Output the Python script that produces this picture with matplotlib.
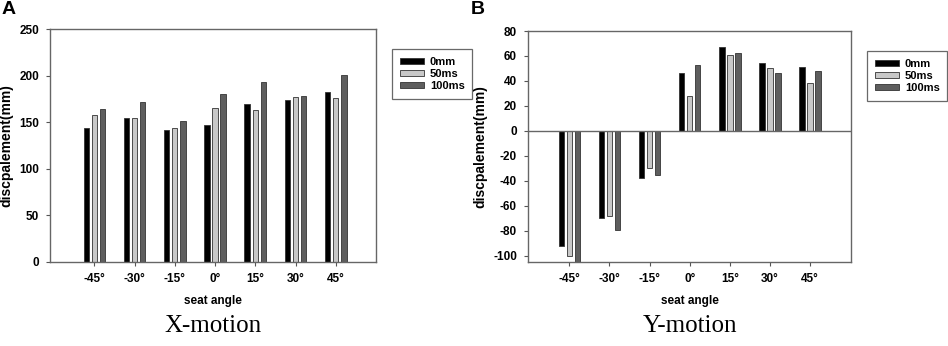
import matplotlib
matplotlib.use("Agg")
import matplotlib.pyplot as plt
import numpy as np

plt.rcParams['font.family'] = ['Liberation Sans', 'DejaVu Sans']

categories = ["-45°", "-30°", "-15°", "0°", "15°", "30°", "45°"]
series_names = ["0mm", "50ms", "100ms"]

x_0mm = [144, 154, 142, 147.5, 170, 174, 182]
x_50ms = [157.5, 154, 144, 165, 163, 177, 176]
x_100ms = [164, 172, 151, 180, 193, 178, 201]

y_0mm = [-92.5, -69.5, -38, 46, 67.5, 54.5, 51]
y_50ms = [-100.5, -68, -30, 28, 60.5, 50, 38]
y_100ms = [-106, -79, -35, 53, 62, 46, 48]

colors = ["#000000", "#c8c8c8", "#5e5e5e"]

W, H = 948, 346
fig = plt.figure(figsize=(W / 100, H / 100), dpi=100)

def ax_rect(x0, y0, x1, y1):
    return [x0 / W, 1 - y1 / H, (x1 - x0) / W, (y1 - y0) / H]

axA = fig.add_axes(ax_rect(50, 29, 376, 262))
axB = fig.add_axes(ax_rect(528, 31, 851, 262))

pos = np.arange(len(categories))
offs = [-0.2, 0.0, 0.2]
bw = 0.135

def draw(ax, data, ylim, yticks, xlim, legend_box):
    handles = []
    for d, c, o, name in zip(data, colors, offs, series_names):
        b = ax.bar(pos + o, d, width=bw, color=c, edgecolor="#333333",
                   linewidth=0.6, label=name, zorder=2)
        handles.append(b)
    ax.set_ylim(*ylim)
    ax.set_xlim(*xlim)
    ax.set_yticks(yticks)
    ax.set_yticklabels([str(t) for t in yticks], fontsize=8.5, fontweight="bold")
    ax.set_xticks(pos)
    ax.set_xticklabels(categories, fontsize=8.5, fontweight="bold")
    ax.tick_params(axis="both", direction="out", length=3, width=0.8,
                   color="#555555", pad=5)
    for s in ax.spines.values():
        s.set_color("#666666")
        s.set_linewidth(1.0)
    ax.set_ylabel("discpalement(mm)", fontsize=10, fontweight="bold", labelpad=4)
    ax.set_xlabel("seat angle", fontsize=8.5, fontweight="bold", labelpad=7)
    leg = ax.legend(handles=handles, loc="upper left",
                    bbox_to_anchor=legend_box, bbox_transform=fig.transFigure,
                    prop={"weight": "bold", "size": 8},
                    frameon=True, fancybox=False, edgecolor="#444444",
                    handlelength=2.2, handleheight=0.5, handletextpad=0.5,
                    labelspacing=0.2, borderpad=0.7, borderaxespad=0)
    leg.get_frame().set_linewidth(0.9)

draw(axA, [x_0mm, x_50ms, x_100ms], (0, 250), [0, 50, 100, 150, 200, 250],
     (-1.1, 7.0), (392 / W, 1 - 49 / H))
draw(axB, [y_0mm, y_50ms, y_100ms], (-105, 80),
     [-100, -80, -60, -40, -20, 0, 20, 40, 60, 80],
     (-1.03, 7.02), (867 / W, 1 - 51 / H))
axB.axhline(0, color="#666666", linewidth=1.0, zorder=3)

fig.text(2 / W, 1 - 10 / H, "A", fontsize=14, fontweight="bold", va="center", ha="left")
fig.text(471 / W, 1 - 10 / H, "B", fontsize=14, fontweight="bold", va="center", ha="left")

fig.text(213 / W, 1 - 326 / H, "X-motion", fontsize=18,
         family=["Liberation Serif", "DejaVu Serif"], ha="center", va="center")
fig.text(690 / W, 1 - 326 / H, "Y-motion", fontsize=18,
         family=["Liberation Serif", "DejaVu Serif"], ha="center", va="center")

fig.savefig("out.png", dpi=100)
